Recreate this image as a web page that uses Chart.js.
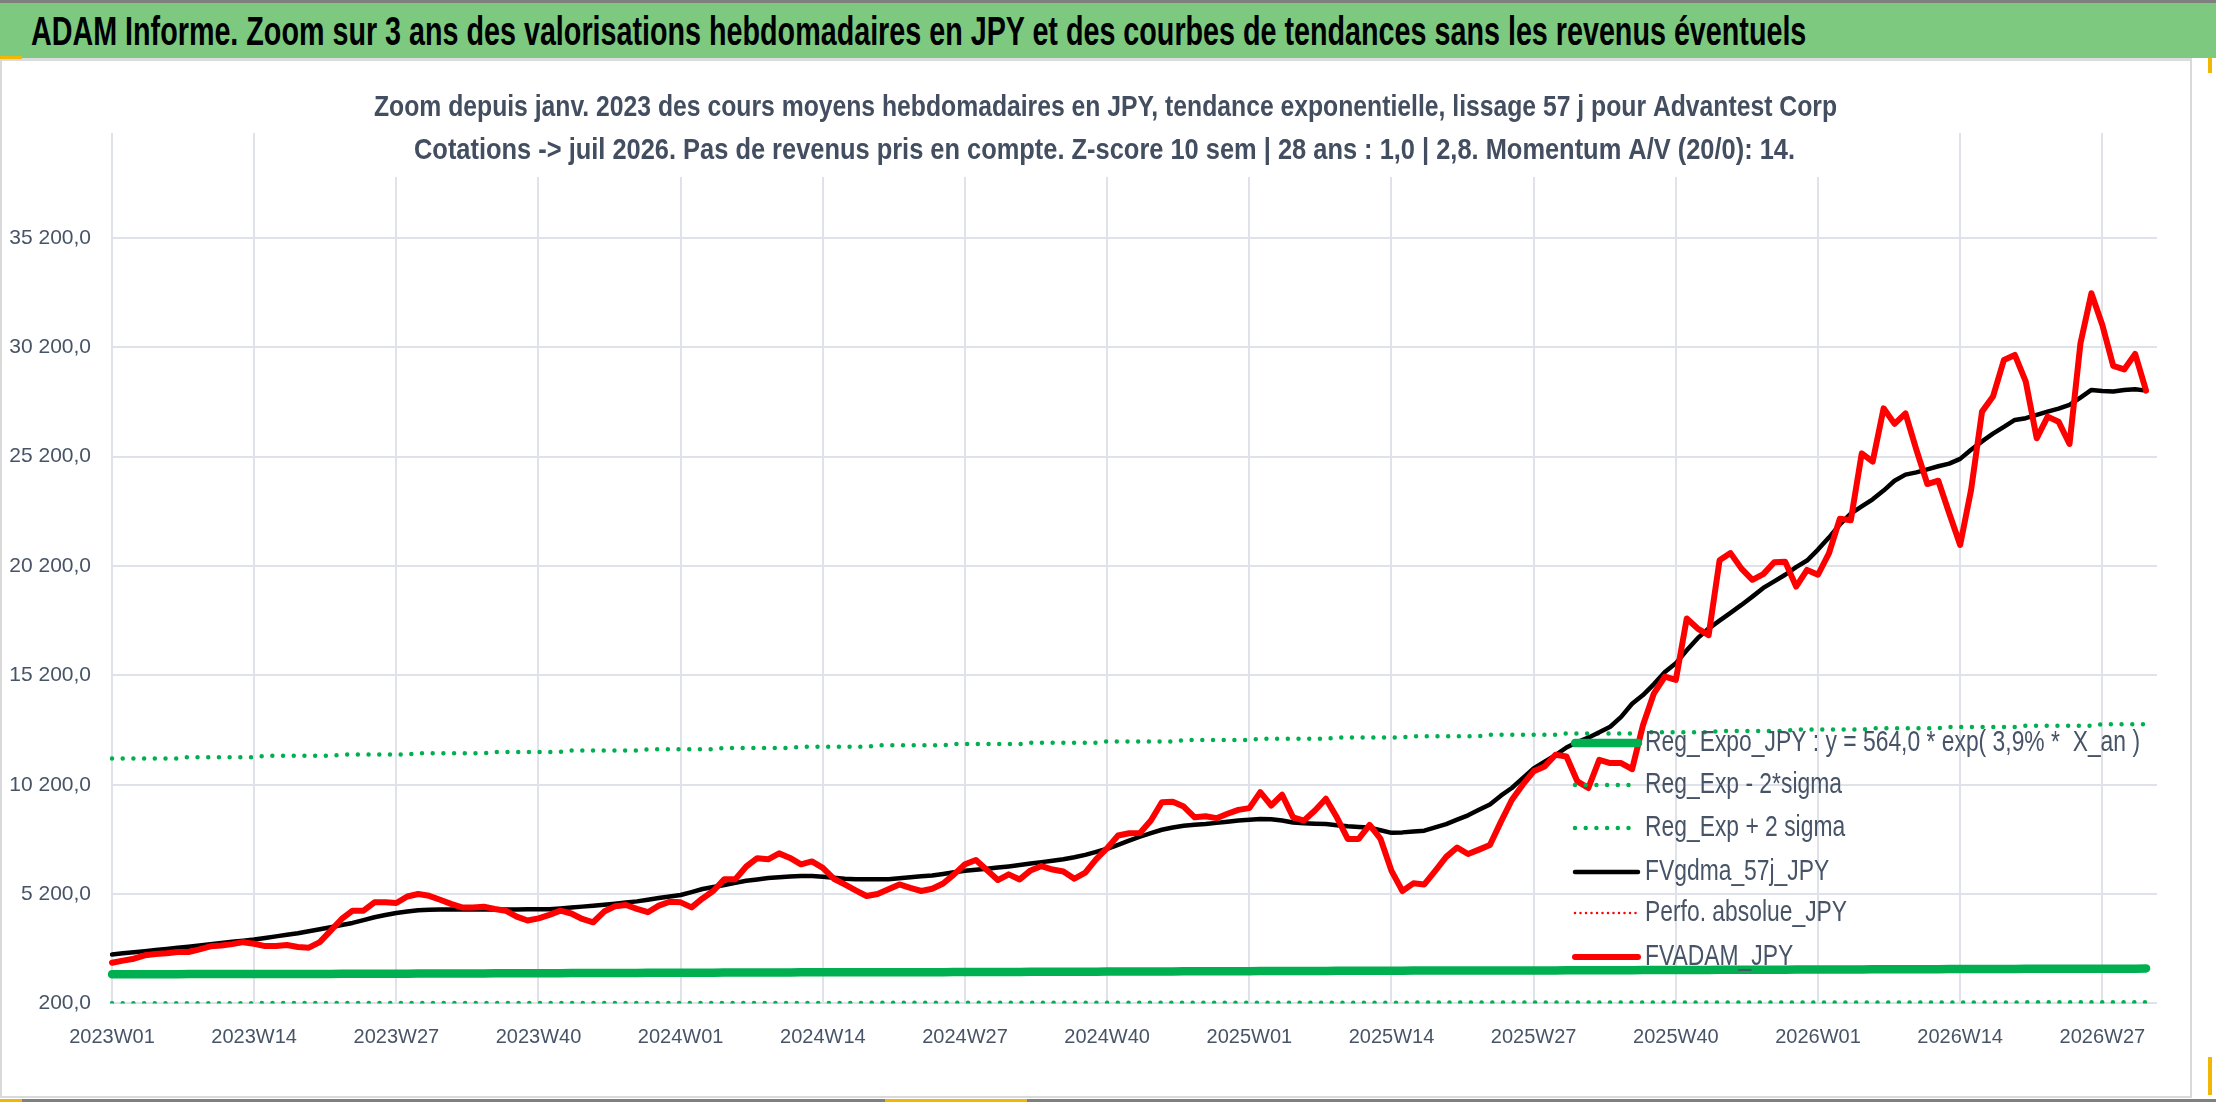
<!DOCTYPE html>
<html lang="fr">
<head>
<meta charset="utf-8">
<title>ADAM Informe - Advantest Corp</title>
<script src="https://cdn.jsdelivr.net/npm/chart.js@4.4.1/dist/chart.umd.min.js"></script>
<style>
  html, body { margin: 0; padding: 0; background: #fff; }
  body { width: 2216px; height: 1102px; position: relative; overflow: hidden;
         font-family: 'Liberation Sans Narrow', 'Liberation Sans', Arial, sans-serif; }
  #bar { position: absolute; left: 0; top: 0; width: 2216px; height: 58px; box-sizing: border-box;
         background: #7dc97f; border-top: 3px solid #7f7f7f; }
  #bar span { position: absolute; left: 31px; top: 50%; transform-origin: 0 50%; white-space: nowrap;
              font-weight: bold; font-size: 40px; color: #000; }
  #box { position: absolute; left: 0; top: 58px; width: 2192px; height: 1040px; box-sizing: border-box;
         border: 2px solid #d9d9d9; border-top: 3px solid #dcdcdc; background: #fff; }
  #box canvas { display: block; }
  .mark { position: absolute; background: #f2b705; }
  #foot { position: absolute; left: 0; top: 1099px; width: 2216px; height: 3px; background: #808080; }
</style>
</head>
<body>
<div id="bar"><span id="mainTitle">ADAM Informe. Zoom sur 3 ans des valorisations hebdomadaires en JPY et des courbes de tendances sans les revenus éventuels</span></div>
<div id="box"><canvas id="adamChart" width="2188" height="1035"></canvas></div>
<div class="mark" style="left:0;top:56px;width:22px;height:3px"></div>
<div class="mark" style="left:2208px;top:58px;width:4px;height:15px"></div>
<div class="mark" style="left:2208px;top:1057px;width:4px;height:38px"></div>
<div id="foot"></div>
<div class="mark" style="left:0;top:1099px;width:22px;height:3px"></div>
<div class="mark" style="left:885px;top:1099px;width:142px;height:3px"></div>

<script>
// week categories 2023W01 .. 2026W32
const weeks = [];
for (const [yr, n] of [[2023, 52], [2024, 52], [2025, 52], [2026, 32]]) {
    for (let w = 1; w <= n; w++) weeks.push(yr + 'W' + String(w).padStart(2, '0'));
}

// y axis ticks
const yTicks = [200, 5200, 10200, 15200, 20200, 25200, 30200, 35200];

// FVADAM_JPY (weekly average price)
const fvadam = [
    2060, 2155, 2245, 2400, 2460, 2490, 2550, 2550, 2670, 2810, 2850, 2910, 3000,
    2930, 2820, 2820, 2870, 2780, 2750, 3000, 3530, 4060, 4440, 4440, 4820, 4820,
    4790, 5090, 5200, 5120, 4940, 4750, 4590, 4590, 4620, 4520, 4440, 4170, 3990,
    4090, 4250, 4440, 4310, 4060, 3910, 4400, 4640, 4700, 4520, 4370, 4670, 4850,
    4820, 4590, 5000, 5350, 5880, 5880, 6460, 6840, 6790, 7060, 6850, 6560, 6690,
    6400, 5900, 5640, 5370, 5110, 5200, 5420, 5640, 5480, 5340, 5440, 5680, 6100,
    6560, 6760, 6300, 5840, 6100, 5870, 6280, 6480, 6320, 6230, 5900, 6180, 6800,
    7300, 7880, 7980, 7990, 8560, 9400, 9420, 9200, 8710, 8760, 8670, 8870, 9050,
    9130, 9860, 9250, 9740, 8710, 8560, 9020, 9560, 8710, 7720, 7720, 8360, 7720,
    6260, 5340, 5690, 5640, 6260, 6900, 7330, 7030, 7230, 7440, 8500, 9500, 10200,
    10810, 11030, 11570, 11490, 10350, 10050, 11340, 11190, 11190, 10910, 12930, 14380, 15140,
    14990, 17800, 17340, 17040, 20460, 20790, 20080, 19570, 19830, 20370, 20400, 19260, 20020,
    19800, 20780, 22360, 22290, 25350, 24970, 27410, 26700, 27180, 25510, 23950, 24100, 22610,
    21160, 23680, 27260, 27950, 29620, 29850, 28630, 26040, 27030, 26800, 25780, 30380, 32670,
    31220, 29350, 29190, 29900, 28220
];

// FVgdma_57j_JPY (smoothed)
const fvgdma = [
    2440, 2490, 2540, 2590, 2640, 2690, 2740, 2795, 2850, 2905, 2960, 3015, 3070,
    3125, 3195, 3265, 3340, 3410, 3500, 3590, 3685, 3785, 3880, 4010, 4140, 4240,
    4335, 4400, 4460, 4480, 4490, 4490, 4490, 4490, 4490, 4490, 4490, 4495, 4500,
    4500, 4505, 4545, 4585, 4625, 4670, 4715, 4760, 4815, 4865, 4940, 5020, 5090,
    5155, 5290, 5430, 5520, 5610, 5710, 5805, 5870, 5930, 5965, 6005, 6020, 6030,
    5990, 5945, 5900, 5880, 5875, 5875, 5875, 5920, 5970, 6010, 6045, 6120, 6200,
    6270, 6310, 6360, 6410, 6465, 6530, 6600, 6660, 6725, 6790, 6880, 6990, 7130,
    7270, 7450, 7640, 7820, 7990, 8140, 8240, 8320, 8370, 8405, 8455, 8510, 8560,
    8600, 8635, 8620, 8560, 8470, 8440, 8420, 8400, 8350, 8300, 8270, 8240, 8120,
    8000, 8020, 8060, 8100, 8250, 8400, 8600, 8800, 9050, 9300, 9700, 10050, 10500,
    10950, 11250, 11550, 11900, 12150, 12350, 12600, 12850, 13300, 13900, 14300, 14800, 15350,
    15750, 16350, 16900, 17340, 17700, 18060, 18420, 18800, 19200, 19500, 19800, 20150, 20450,
    20950, 21500, 22100, 22600, 22930, 23250, 23650, 24100, 24380, 24480, 24620, 24760, 24880,
    25100, 25520, 25900, 26250, 26560, 26880, 26960, 27110, 27260, 27400, 27570, 27900, 28250,
    28200, 28180, 28250, 28280, 28220
];

// Reg_Expo_JPY (exponential trend)
const regExpo = [
    1530, 1530, 1530, 1530, 1530, 1530, 1530,
    1540, 1540, 1540, 1540, 1540, 1540, 1540,
    1550, 1550, 1550, 1550, 1550, 1550, 1550,
    1560, 1560, 1560, 1560, 1560, 1560, 1560,
    1570, 1570, 1570, 1570, 1570, 1570, 1570,
    1580, 1580, 1580, 1580, 1580, 1580, 1580,
    1590, 1590, 1590, 1590, 1590, 1590, 1590,
    1600, 1600, 1600, 1600, 1600, 1600, 1600,
    1610, 1610, 1610, 1610, 1610, 1610, 1610,
    1620, 1620, 1620, 1620, 1620, 1620, 1620,
    1630, 1630, 1630, 1630, 1630, 1630, 1630,
    1640, 1640, 1640, 1640, 1640, 1640, 1640,
    1650, 1650, 1650, 1650, 1650, 1650, 1650,
    1660, 1660, 1660, 1660, 1660, 1660, 1660,
    1670, 1670, 1670, 1670, 1670, 1670, 1670,
    1680, 1680, 1680, 1680, 1680, 1680, 1680,
    1690, 1690, 1690, 1690, 1690, 1690, 1690,
    1700, 1700, 1700, 1700, 1700, 1700, 1700,
    1710, 1710, 1710, 1710, 1710, 1710, 1710,
    1720, 1720, 1720, 1720, 1720, 1720, 1720,
    1730, 1730, 1730, 1730, 1730, 1730, 1730,
    1740, 1740, 1740, 1740, 1740, 1740, 1740,
    1750, 1750, 1750, 1750, 1750, 1750, 1750,
    1760, 1760, 1760, 1760, 1760, 1760, 1760,
    1770, 1770, 1770, 1770, 1770, 1770, 1770,
    1780, 1780, 1780, 1780, 1780, 1780, 1780,
    1790, 1790, 1790, 1790, 1800
];

// Reg_Exp - 2*sigma
const regLow = [
    210, 210, 210, 210, 210, 210, 210,
    212, 212, 212, 212, 212, 212, 212,
    213, 213, 213, 213, 213, 213, 213,
    215, 215, 215, 215, 215, 215, 215,
    216, 216, 216, 216, 216, 216, 216,
    218, 218, 218, 218, 218, 218, 218,
    219, 219, 219, 219, 219, 219, 219,
    221, 221, 221, 221, 221, 221, 221,
    222, 222, 222, 222, 222, 222, 222,
    224, 224, 224, 224, 224, 224, 224,
    225, 225, 225, 225, 225, 225, 225,
    227, 227, 227, 227, 227, 227, 227,
    228, 228, 228, 228, 228, 228, 228,
    230, 230, 230, 230, 230, 230, 230,
    231, 231, 231, 231, 231, 231, 231,
    233, 233, 233, 233, 233, 233, 233,
    234, 234, 234, 234, 234, 234, 234,
    236, 236, 236, 236, 236, 236, 236,
    237, 237, 237, 237, 237, 237, 237,
    239, 239, 239, 239, 239, 239, 239,
    240, 240, 240, 240, 240, 240, 240,
    242, 242, 242, 242, 242, 242, 242,
    243, 243, 243, 243, 243, 243, 243,
    245, 245, 245, 245, 245, 245, 245,
    246, 246, 246, 246, 246, 246, 246,
    248, 248, 248, 248, 248, 248, 248,
    249, 249, 249, 249, 249
];

// Reg_Exp + 2 sigma
const regHigh = [
    11400, 11400, 11400, 11400, 11400, 11400, 11400,
    11460, 11460, 11460, 11460, 11460, 11460, 11460,
    11520, 11520, 11520, 11520, 11520, 11520, 11520,
    11580, 11580, 11580, 11580, 11580, 11580, 11580,
    11640, 11640, 11640, 11640, 11640, 11640, 11640,
    11700, 11700, 11700, 11700, 11700, 11700, 11700,
    11760, 11760, 11760, 11760, 11760, 11760, 11760,
    11820, 11820, 11820, 11820, 11820, 11820, 11820,
    11880, 11880, 11880, 11880, 11880, 11880, 11880,
    11940, 11940, 11940, 11940, 11940, 11940, 11940,
    12000, 12000, 12000, 12000, 12000, 12000, 12000,
    12060, 12060, 12060, 12060, 12060, 12060, 12060,
    12120, 12120, 12120, 12120, 12120, 12120, 12120,
    12180, 12180, 12180, 12180, 12180, 12180, 12180,
    12240, 12240, 12240, 12240, 12240, 12240, 12240,
    12300, 12300, 12300, 12300, 12300, 12300, 12300,
    12360, 12360, 12360, 12360, 12360, 12360, 12360,
    12420, 12420, 12420, 12420, 12420, 12420, 12420,
    12480, 12480, 12480, 12480, 12480, 12480, 12480,
    12540, 12540, 12540, 12540, 12540, 12540, 12540,
    12600, 12600, 12600, 12600, 12600, 12600, 12600,
    12660, 12660, 12660, 12660, 12660, 12660, 12660,
    12720, 12720, 12720, 12720, 12720, 12720, 12720,
    12780, 12780, 12780, 12780, 12780, 12780, 12780,
    12840, 12840, 12840, 12840, 12840, 12840, 12840,
    12900, 12900, 12900, 12900, 12900, 12900, 12900,
    12960, 12960, 12960, 12960, 12960
];

// Perfo. absolue_JPY: nothing shows inside the axis range
const perfoAbs = [];

const subtitleLines = [
    'Zoom depuis janv. 2023 des cours moyens hebdomadaires en JPY, tendance exponentielle, lissage 57 j pour Advantest Corp',
    'Cotations -> juil 2026. Pas de revenus pris en compte. Z-score 10 sem | 28 ans : 1,0 | 2,8. Momentum A/V (20/0): 14.'
];

const FONT = "'Liberation Sans Narrow', 'Liberation Sans', Arial, sans-serif";
const gridColor = '#dfe3e9';
const textColor = '#475467';

function start() {
    // stretch the banner title to its width in the reference
    const t = document.getElementById('mainTitle');
    const k = 1775 / t.offsetWidth;
    t.style.transform = 'translateY(-50%) scaleX(' + k + ')';

    function fitText(ctx, text, x, y, width, align) {
        const w = ctx.measureText(text).width;
        ctx.save();
        ctx.translate(x, y);
        ctx.scale(width / w, 1);
        ctx.textAlign = align;
        ctx.fillText(text, 0, 0);
        ctx.restore();
    }

    // two-line subtitle with a white box that hides the top of the grid
    const subtitlePlugin = {
        id: 'subtitleBox',
        beforeDatasetsDraw(chart) {
            const ctx = chart.ctx;
            ctx.save();
            ctx.fillStyle = '#ffffff';
            ctx.fillRect(368, 19, 1470, 97);
            ctx.fillStyle = '#434e60';
            ctx.font = 'bold 30px ' + FONT;
            ctx.textBaseline = 'middle';
            fitText(ctx, subtitleLines[0], 1103.5, 47, 1463, 'center');
            fitText(ctx, subtitleLines[1], 1102.5, 90, 1381, 'center');
            ctx.restore();
        }
    };

    // legend drawn inside the plot, right side
    const legendPlugin = {
        id: 'insideLegend',
        afterDatasetsDraw(chart) {
            const ctx = chart.ctx;
            const rows = [682, 724, 767, 811, 852, 896];
            ctx.save();
            ctx.font = '30px ' + FONT;
            ctx.textBaseline = 'middle';
            const sx = 495 / ctx.measureText(chart.data.datasets[0].label).width;
            chart.data.datasets.forEach((ds, i) => {
                const y = rows[i];
                ctx.save();
                ctx.strokeStyle = ds.borderColor;
                ctx.lineWidth = ds.borderWidth;
                ctx.lineCap = ds.borderCapStyle || 'butt';
                ctx.setLineDash(ds.borderDash || []);
                ctx.beginPath();
                ctx.moveTo(1573, y);
                ctx.lineTo(1636, y);
                ctx.stroke();
                ctx.restore();
                ctx.fillStyle = textColor;
                ctx.save();
                ctx.translate(1643, y);
                ctx.scale(sx, 1);
                ctx.textAlign = 'left';
                ctx.fillText(ds.label, 0, 0);
                ctx.restore();
            });
            ctx.restore();
        }
    };

    const fmt = v => Math.round(v).toString().replace(/\B(?=(\d{3})+(?!\d))/g, ' ') + ',0';

    const ctx = document.getElementById('adamChart');
    new Chart(ctx, {
        type: 'line',
        data: {
            labels: weeks,
            datasets: [{
                label: 'Reg_Expo_JPY : y = 564,0 * exp( 3,9% *  X_an )',
                data: regExpo,
                borderColor: '#00b050',
                borderWidth: 8.5,
                borderCapStyle: 'round',
                order: 5
            },
            {
                label: 'Reg_Exp - 2*sigma',
                data: regLow,
                borderColor: '#00b050',
                borderWidth: 4.5,
                borderDash: [0, 10.7],
                borderCapStyle: 'round',
                order: 4
            },
            {
                label: 'Reg_Exp + 2 sigma',
                data: regHigh,
                borderColor: '#00b050',
                borderWidth: 4.5,
                borderDash: [0, 10.7],
                borderCapStyle: 'round',
                order: 3
            },
            {
                label: 'FVgdma_57j_JPY',
                data: fvgdma,
                borderColor: '#000000',
                borderWidth: 4.5,
                borderCapStyle: 'round',
                order: 2
            },
            {
                label: 'Perfo. absolue_JPY',
                data: perfoAbs,
                borderColor: '#ff0000',
                borderWidth: 2.5,
                borderDash: [0, 5.5],
                borderCapStyle: 'round',
                order: 1
            },
            {
                label: 'FVADAM_JPY',
                data: fvadam,
                borderColor: '#ff0000',
                borderWidth: 6,
                borderCapStyle: 'round',
                order: 0
            }]
        },
        options: {
            responsive: false,
            animation: false,
            layout: { padding: { top: 72, left: 0, right: 33, bottom: 0 } },
            elements: {
                point: { radius: 0, hoverRadius: 0 },
                line: { tension: 0, borderJoinStyle: 'round', fill: false }
            },
            scales: {
                x: {
                    type: 'category',
                    offset: false,
                    border: { display: false },
                    grid: {
                        color: c => (c.index % 13 === 0 ? gridColor : 'rgba(0,0,0,0)'), // only labelled weeks
                        lineWidth: 2,
                        drawTicks: false
                    },
                    ticks: {
                        autoSkip: false,
                        maxRotation: 0,
                        minRotation: 0,
                        padding: 22,
                        color: textColor,
                        font: { family: FONT, size: 20 },
                        callback: (v, i) => (i % 13 === 0 ? weeks[i] : '')
                    },
                    afterFit: s => { s.height = 92.6; }
                },
                y: {
                    min: 200,
                    max: 40000,
                    border: { display: false },
                    grid: { color: gridColor, lineWidth: 2, drawTicks: false },
                    ticks: {
                        padding: 21,
                        color: textColor,
                        font: { family: FONT, size: 21 },
                        callback: v => fmt(v)
                    },
                    afterBuildTicks: s => { s.ticks = yTicks.map(v => ({ value: v })); },
                    afterFit: s => { s.width = 110; }
                }
            },
            plugins: {
                legend: { display: false },
                tooltip: { enabled: false },
                title: { display: false }
            }
        },
        plugins: [subtitlePlugin, legendPlugin]
    });
}

window.onload = start;
</script>
</body>
</html>
